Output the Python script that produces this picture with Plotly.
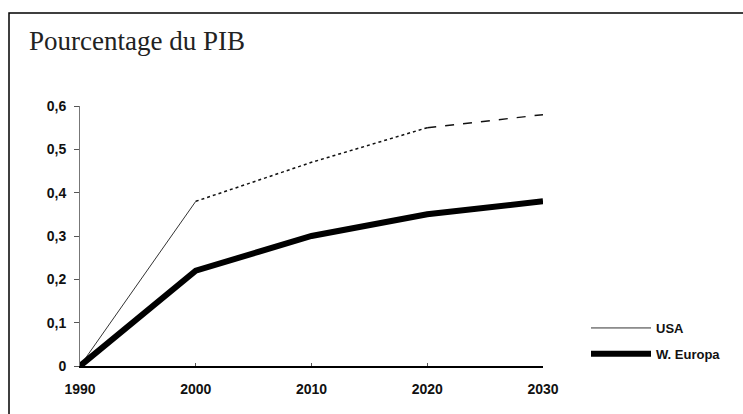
import plotly.graph_objects as go

years = [1990, 2000, 2010, 2020, 2030]
usa = [0, 0.38, 0.47, 0.55, 0.58]
europa = [0, 0.22, 0.30, 0.35, 0.38]
y_ticks = [0, 0.1, 0.2, 0.3, 0.4, 0.5, 0.6]
y_ticktext = ["0", "0,1", "0,2", "0,3", "0,4", "0,5", "0,6"]
title_text = "Pourcentage du PIB"

W, H = 743, 414
L, T = 80, 106
pw, ph = 463, 260
R = W - L - pw
B = H - T - ph

def px_x(p):
    return (p - L) / pw

def px_y(p):
    return (T + ph - p) / ph

fig = go.Figure()
fig.add_trace(go.Scatter(x=years[0:2], y=usa[0:2], mode="lines", name="USA",
                         line=dict(color="#333333", width=1),
                         legendgroup="usa", showlegend=True))
fig.add_trace(go.Scatter(x=years[1:4], y=usa[1:4], mode="lines", name="USA",
                         line=dict(color="#111111", width=1.5, dash="dot"),
                         legendgroup="usa", showlegend=False))
fig.add_trace(go.Scatter(x=years[3:5], y=usa[3:5], mode="lines", name="USA",
                         line=dict(color="#111111", width=1.5, dash="dash"),
                         legendgroup="usa", showlegend=False))
fig.add_trace(go.Scatter(x=years, y=europa, mode="lines", name="W. Europa",
                         line=dict(color="#000000", width=6),
                         legendgroup="eu", showlegend=True))

tick_font = dict(family="Liberation Sans, Arial", size=14, weight="bold", color="#111111")

fig.update_layout(
    width=W, height=H,
    margin=dict(l=L, r=R, t=T, b=B),
    paper_bgcolor="white", plot_bgcolor="white",
    separators=", ",
    font=dict(family="Liberation Sans, Arial", size=12, color="#111111"),
    showlegend=True,
    legend=dict(x=px_x(586), y=px_y(313), xanchor="left", yanchor="top",
                font=dict(family="Liberation Sans, Arial", size=13, color="#111111", weight="bold"),
                tracegroupgap=6, bgcolor="rgba(0,0,0,0)", itemwidth=60),
    xaxis=dict(range=[1990, 2030], tickvals=years, showgrid=False, zeroline=False,
               showline=True, linecolor="black", linewidth=2,
               ticks="inside", ticklen=3, tickcolor="#555555", tickwidth=1,
               ticklabelstandoff=9, tickfont=tick_font),
    yaxis=dict(range=[0, 0.6], tickvals=y_ticks, ticktext=y_ticktext, showgrid=False, zeroline=False,
               showline=True, linecolor="#777777", linewidth=1,
               ticks="outside", ticklen=5, tickcolor="#555555", tickwidth=1,
               ticklabelstandoff=5, tickfont=tick_font),
    shapes=[dict(type="rect", xref="paper", yref="paper",
                 x0=px_x(9), x1=px_x(760), y0=px_y(440), y1=px_y(13),
                 line=dict(color="black", width=1.5), fillcolor="rgba(0,0,0,0)", layer="below")],
    annotations=[dict(text=title_text, xref="paper", yref="paper",
                      x=px_x(27), y=px_y(41), xanchor="left", yanchor="middle",
                      showarrow=False,
                      font=dict(family="Liberation Serif, Times New Roman", size=27, color="#222222"))],
)

fig.write_html(
    "out.html",
    config={"displayModeBar": False},
    post_script=(
        "document.documentElement.style.overflow='hidden';"
        "document.documentElement.style.margin='0';"
        "document.body.style.margin='0';"
        "document.body.style.overflow='hidden';"
    ),
)
